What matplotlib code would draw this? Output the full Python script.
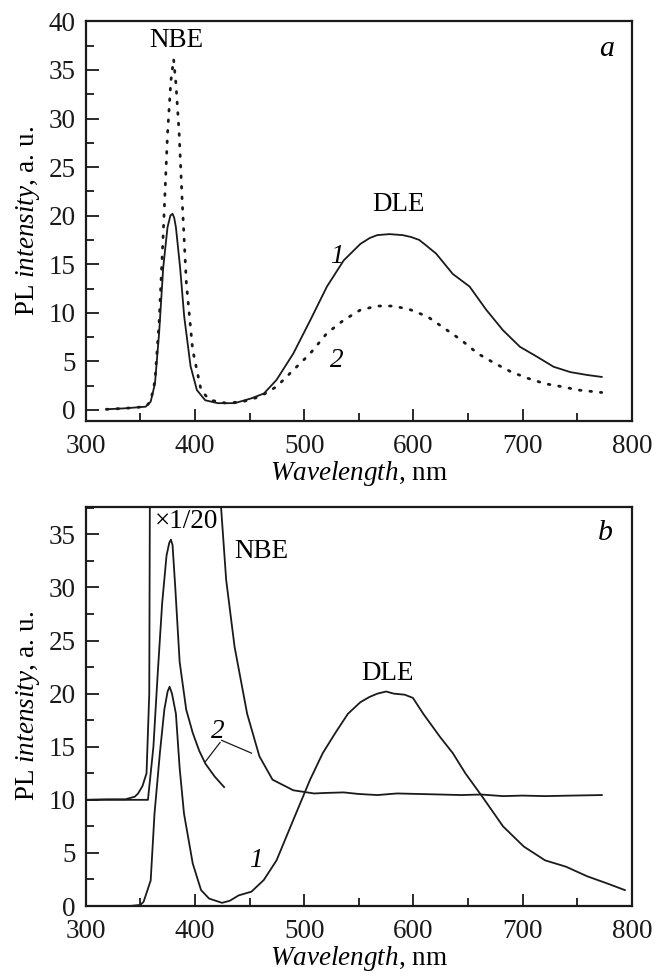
import matplotlib
matplotlib.use("Agg")
import matplotlib.pyplot as plt
from matplotlib.ticker import MultipleLocator

plt.rcParams['font.family'] = ['Liberation Serif', 'DejaVu Serif']
plt.rcParams['mathtext.fontset'] = 'custom'
plt.rcParams['mathtext.rm'] = 'Liberation Serif'
plt.rcParams['mathtext.it'] = 'Liberation Serif:italic'

# ---------------- Panel a data ----------------
a1_wl = [319, 336, 355, 359.5, 363.4, 367.2, 371, 374.9, 377.5, 379.5, 381, 382.6, 386.4, 390.2, 396,
         401.8, 409.4, 421, 436.3, 451.7, 463.2, 474.7, 490, 505.4, 520.8, 536.2, 551.5,
         560, 566.9, 578, 590, 598, 605.3, 612, 620.7, 628, 636, 651.4, 666.7, 682, 697.5,
         712.8, 728.2, 743.5, 759, 772.3]
a1_int = [0.07, 0.17, 0.34, 0.86, 2.7, 7.9, 14.7, 18.8, 20.0, 20.2, 19.8, 18.8, 14.7, 9.6, 4.5,
          2.05, 1.0, 0.7, 0.7, 1.2, 1.7, 3.1, 5.8, 9.2, 12.7, 15.4, 17.1,
          17.7, 18.0, 18.1, 18.0, 17.8, 17.5, 16.9, 16.1, 15.1, 14.0, 12.7, 10.3, 8.2, 6.5,
          5.5, 4.45, 3.9, 3.6, 3.4]

a2_wl = [319, 336, 355, 359.5, 363.4, 367.2, 371, 374.9, 378, 380.5, 382.6, 385.6, 388.3,
         392.2, 397.9, 405.6, 413.3, 428.6, 444, 459.4, 474.7, 490, 505.4, 520.8, 536.2,
         551.5, 566.9, 582.3, 597.6, 613, 628.4, 643.7, 659, 674.4, 689.8, 705, 720.5,
         735.8, 751, 772.3]
a2_int = [0.07, 0.17, 0.34, 0.9, 3.0, 9.0, 18.2, 28.4, 33.9, 36.1, 33.6, 28.4, 21.6,
          13.0, 6.2, 2.05, 1.03, 0.7, 0.86, 1.37, 2.4, 4.1, 5.8, 7.9, 9.25,
          10.3, 10.7, 10.7, 10.3, 9.6, 8.4, 7.2, 5.8, 4.8, 3.9, 3.25, 2.7,
          2.4, 2.05, 1.8]

# ---------------- Panel b data ----------------
b1_wl = [300, 340, 350, 353, 359.5, 363, 368, 372, 375, 376.8, 379, 382.6, 386, 390, 398, 405.6, 413,
         424.8, 432, 440, 451.7, 463, 474.7, 490, 505.4, 517, 528.5, 540, 551.5, 560, 567,
         575, 582, 592, 599.5, 609, 624.5, 636, 647.5, 663, 682, 701, 720.5, 739.7,
         759, 778, 793.5]
b1_int = [0.0, 0.0, 0.1, 0.4, 2.4, 8.7, 14.5, 18.5, 20.2, 20.65, 20.0, 18.1, 13.0, 8.7, 4.0, 1.5, 0.7,
          0.3, 0.5, 1.0, 1.35, 2.45, 4.3, 8.1, 11.9, 14.4, 16.3, 18.1, 19.2, 19.7, 20.0,
          20.2, 20.0, 19.9, 19.6, 18.1, 15.9, 14.4, 12.5, 10.3, 7.5, 5.6, 4.3, 3.7,
          2.8, 2.1, 1.5]

# curve 2, scaled x1/20 (offset baseline at 10)
b2s_wl = [300, 357, 357.6, 362, 366, 370, 374, 376.5, 378, 379.5, 382, 386, 392, 398, 404, 409.6, 418, 426.7]
b2s_int = [10.0, 10.0, 10.6, 15.0, 22.0, 28.5, 33.0, 34.2, 34.5, 34.0, 30.0, 23.0, 18.5, 16.3, 14.6, 13.4, 12.2, 11.2]

# curve 2, raw (off-scale around the NBE peak)
b2_wl = [300, 320, 336.5, 345, 348, 352, 355.7, 358.2, 358.8, 380, 423.6, 428.6, 436.3,
         447.8, 459, 471, 490, 509, 520, 536, 550, 567, 585, 605, 625, 643.7, 662,
         682, 700, 720.5, 745, 772.4]
b2_int = [10.0, 10.05, 10.05, 10.3, 10.6, 11.3, 12.5, 20.0, 40.0, 400.0, 38.0, 30.7, 24.4,
          18.1, 14.1, 11.9, 10.9, 10.6, 10.65, 10.7, 10.55, 10.45, 10.6, 10.55, 10.5, 10.45, 10.5,
          10.35, 10.4, 10.35, 10.4, 10.45]

xticks = [300, 400, 500, 600, 700, 800]

fig = plt.figure(figsize=(6.57, 9.76), dpi=100)
axa = fig.add_axes([0.1304, 0.5686, 0.8315, 0.4095])
axb = fig.add_axes([0.1304, 0.0717, 0.8315, 0.4091])

lw = 1.3
axa.plot(a1_wl, a1_int, color='#1a1a1a', lw=lw)
axa.plot(a2_wl, a2_int, color='#1a1a1a', lw=2.0, linestyle=(0, (0.6, 3.2)), dash_capstyle='round')

axb.plot(b1_wl, b1_int, color='#1a1a1a', lw=lw)
axb.plot(b2s_wl, b2s_int, color='#1a1a1a', lw=lw)
axb.plot(b2_wl, b2_int, color='#1a1a1a', lw=lw)

fs = 19.5
for ax in (axa, axb):
    ax.set_xlim(300, 800)
    ax.set_xticks(xticks)
    ax.xaxis.set_minor_locator(MultipleLocator(50))
    ax.yaxis.set_minor_locator(MultipleLocator(2.5))
    ax.tick_params(which='both', direction='in', labelsize=fs, width=1.3, colors='#1a1a1a')
    ax.tick_params(which='major', length=9)
    ax.tick_params(axis='y', which='major', pad=7)
    ax.tick_params(axis='x', which='major', pad=9)
    ax.tick_params(which='minor', length=6)
    for s in ax.spines.values():
        s.set_linewidth(1.6)
        s.set_color('#1a1a1a')
    ax.set_xlabel(r'$\it{Wavelength}$, nm', fontsize=fs, labelpad=0)
    ax.set_ylabel(r'PL $\it{intensity}$, a. u.', fontsize=fs, labelpad=5)

axa.set_ylim(-1.14, 40)
axa.set_yticks([0, 5, 10, 15, 20, 25, 30, 35, 40])
axb.set_ylim(0, 37.6)
axb.set_yticks([0, 5, 10, 15, 20, 25, 30, 35])

axa.text(382.6, 38.0, 'NBE', ha='center', va='center', fontsize=fs)
axa.text(586, 21.2, 'DLE', ha='center', va='center', fontsize=fs)
axa.text(530, 15.8, '1', ha='center', va='center', fontsize=fs, style='italic')
axa.text(530, 5.1, '2', ha='center', va='center', fontsize=fs, style='italic')
axa.text(776.5, 37.2, 'a', ha='center', va='center', fontsize=fs + 2, style='italic')

axb.text(392, 36.2, '×1/20', ha='center', va='center', fontsize=fs)
axb.text(461, 33.4, 'NBE', ha='center', va='center', fontsize=fs)
axb.text(576.5, 21.9, 'DLE', ha='center', va='center', fontsize=fs)
axb.text(455.5, 4.3, '1', ha='center', va='center', fontsize=fs, style='italic')
axb.text(420.5, 16.4, '2', ha='center', va='center', fontsize=fs, style='italic')
axb.text(776, 35.1, 'b', ha='center', va='center', fontsize=fs + 2, style='italic')
axb.plot([423, 409.6], [15.4, 13.6], color='#1a1a1a', lw=0.9)
axb.plot([424.5, 451.7], [15.6, 14.4], color='#1a1a1a', lw=0.9)

fig.savefig('out.png', dpi=100)
